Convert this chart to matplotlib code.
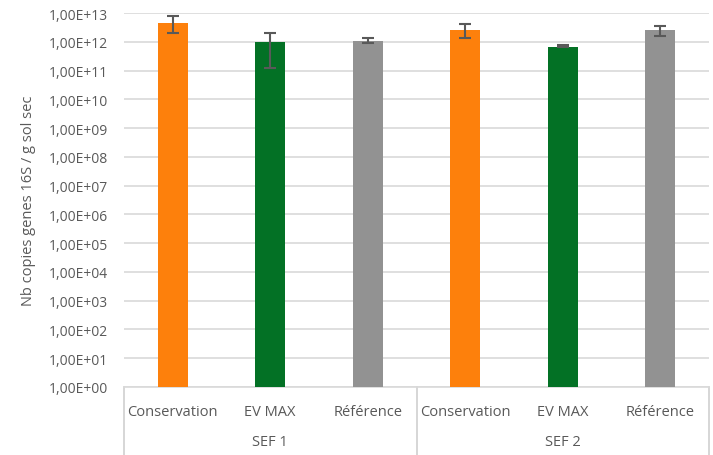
import matplotlib
matplotlib.use("Agg")
import matplotlib.pyplot as plt
import numpy as np

plt.rcParams['font.family'] = ['Open Sans', 'DejaVu Sans']

treatments = ["Conservation", "EV MAX", "Référence",
              "Conservation", "EV MAX", "Référence"]
sites = ["SEF 1", "SEF 2"]
copies = [4.5e12, 1.0e12, 1.1e12, 2.5e12, 6.7e11, 2.5e12]
err_low = [2.5e12, 0.88e12, 0.18e12, 1.2e12, 0.2e11, 0.9e12]
err_high = [3.4e12, 0.95e12, 0.25e12, 1.6e12, 1.3e11, 0.95e12]
colors = ["#fd800c", "#037125", "#929292", "#fd800c", "#037125", "#929292"]
exponents = list(range(0, 14))
ytick_labels = ["1,00E+%02d" % e for e in exponents]

fig = plt.figure(figsize=(7.13, 4.56), dpi=100)
W, H = 713, 456
left, right, top, bottom = 124, 709, 14, 388
ax = fig.add_axes([left / W, 1 - bottom / H, (right - left) / W, (bottom - top) / H])

x = np.arange(len(copies))
ax.bar(x, copies, width=0.31, color=colors, zorder=3)
ax.errorbar(x, copies, yerr=[err_low, err_high], fmt='none', ecolor='#595959',
            elinewidth=1.5, capsize=4, capthick=1.5, zorder=4)

ax.set_yscale('log')
ax.set_ylim(1, 1e13)
ax.set_xlim(-0.5, len(copies) - 0.5)
ax.set_yticks([10.0 ** e for e in exponents])
ax.set_yticklabels(ytick_labels)
ax.yaxis.set_minor_locator(matplotlib.ticker.NullLocator())
ax.tick_params(axis='y', length=0, labelsize=10, labelcolor='#595959', pad=11.5)
ax.set_xticks([])
ax.grid(axis='y', color='#d9d9d9', linewidth=1.2, zorder=0)
for s in ['left', 'right', 'top']:
    ax.spines[s].set_visible(False)
ax.spines['bottom'].set_color('#d9d9d9')
ax.spines['bottom'].set_linewidth(1.2)
ax.set_ylabel("Nb copies genes 16S / g sol sec", fontsize=10.5, color='#595959', labelpad=9)

# category axis: treatment names, then site names, separated by vertical rules
for i, name in enumerate(treatments):
    ax.annotate(name, xy=(x[i], 0), xycoords=('data', 'axes fraction'),
                xytext=(0, -17.5), textcoords='offset points',
                ha='center', va='center', fontsize=10.5, color='#595959')
for j, site in enumerate(sites):
    ax.annotate(site, xy=(x[3 * j] + 1, 0), xycoords=('data', 'axes fraction'),
                xytext=(0, -39.5), textcoords='offset points',
                ha='center', va='center', fontsize=10.5, color='#595959')
for xb in [-0.5, 2.5, 5.5]:
    ax.plot([xb, xb], [0, -(H - bottom) / (bottom - top)], transform=ax.get_xaxis_transform(),
            color='#d0d0d0', linewidth=1.2, clip_on=False)

fig.savefig("out.png", dpi=100)
